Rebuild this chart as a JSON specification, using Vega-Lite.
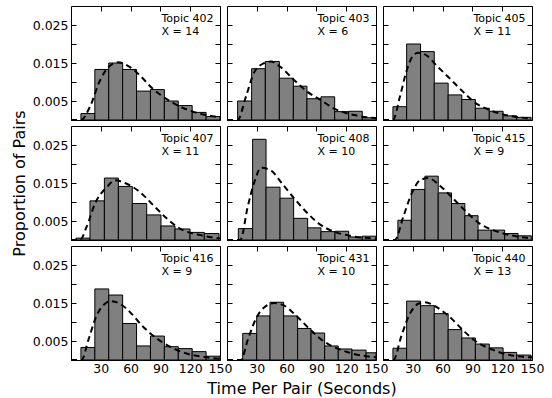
{
"$schema":"https://vega.github.io/schema/vega-lite/v6.json",
"padding":{"left":10,"top":5,"right":5,"bottom":2},
"columns":3,
"spacing":{"row":6,"column":7},
"bounds":"flush",
"datasets":{
"bars":[
{"topic":402,"x0":10,"x1":24,"d":0.0017},{"topic":402,"x0":24,"x1":38,"d":0.0133},{"topic":402,"x0":38,"x1":52,"d":0.0150},{"topic":402,"x0":52,"x1":66,"d":0.0133},{"topic":402,"x0":66,"x1":80,"d":0.0076},{"topic":402,"x0":80,"x1":94,"d":0.0080},{"topic":402,"x0":94,"x1":108,"d":0.0050},{"topic":402,"x0":108,"x1":122,"d":0.0038},{"topic":402,"x0":122,"x1":136,"d":0.0020},{"topic":402,"x0":136,"x1":150,"d":0.0009},
{"topic":403,"x0":10.7,"x1":24.8,"d":0.0050},{"topic":403,"x0":24.8,"x1":38.6,"d":0.0135},{"topic":403,"x0":38.6,"x1":52.7,"d":0.0154},{"topic":403,"x0":52.7,"x1":66.8,"d":0.0110},{"topic":403,"x0":66.8,"x1":80.5,"d":0.0089},{"topic":403,"x0":80.5,"x1":94.6,"d":0.0056},{"topic":403,"x0":94.6,"x1":108.4,"d":0.0061},{"topic":403,"x0":108.4,"x1":122.5,"d":0.0022},{"topic":403,"x0":122.5,"x1":136.2,"d":0.0023},{"topic":403,"x0":136.2,"x1":150,"d":0.0006},
{"topic":405,"x0":10,"x1":23.8,"d":0.0035},{"topic":405,"x0":23.8,"x1":37.8,"d":0.0200},{"topic":405,"x0":37.8,"x1":51.6,"d":0.0180},{"topic":405,"x0":51.6,"x1":65.6,"d":0.0097},{"topic":405,"x0":65.6,"x1":79.3,"d":0.0066},{"topic":405,"x0":79.3,"x1":93,"d":0.0054},{"topic":405,"x0":93,"x1":107,"d":0.0031},{"topic":405,"x0":107,"x1":120.9,"d":0.0023},{"topic":405,"x0":120.9,"x1":134.6,"d":0.0011},{"topic":405,"x0":134.6,"x1":149,"d":0.0007},
{"topic":407,"x0":5,"x1":19.1,"d":0.0005},{"topic":407,"x0":19.1,"x1":33.6,"d":0.0103},{"topic":407,"x0":33.6,"x1":47.7,"d":0.0163},{"topic":407,"x0":47.7,"x1":61.7,"d":0.0141},{"topic":407,"x0":61.7,"x1":76.2,"d":0.0096},{"topic":407,"x0":76.2,"x1":90.6,"d":0.0066},{"topic":407,"x0":90.6,"x1":104.7,"d":0.0037},{"topic":407,"x0":104.7,"x1":119.8,"d":0.0029},{"topic":407,"x0":119.8,"x1":134.2,"d":0.0020},{"topic":407,"x0":134.2,"x1":149,"d":0.0017},
{"topic":408,"x0":11.4,"x1":25.8,"d":0.0030},{"topic":408,"x0":25.8,"x1":39.3,"d":0.0265},{"topic":408,"x0":39.3,"x1":53.4,"d":0.0139},{"topic":408,"x0":53.4,"x1":67.1,"d":0.0110},{"topic":408,"x0":67.1,"x1":81.2,"d":0.0057},{"topic":408,"x0":81.2,"x1":94.6,"d":0.0032},{"topic":408,"x0":94.6,"x1":108.7,"d":0.0022},{"topic":408,"x0":108.7,"x1":122.5,"d":0.0023},{"topic":408,"x0":122.5,"x1":136.2,"d":0.0008},{"topic":408,"x0":136.2,"x1":150,"d":0.0010},
{"topic":415,"x0":15,"x1":28.5,"d":0.0052},{"topic":415,"x0":28.5,"x1":42.2,"d":0.0133},{"topic":415,"x0":42.2,"x1":55.6,"d":0.0168},{"topic":415,"x0":55.6,"x1":69,"d":0.0124},{"topic":415,"x0":69,"x1":82.4,"d":0.0096},{"topic":415,"x0":82.4,"x1":95.7,"d":0.0064},{"topic":415,"x0":95.7,"x1":109,"d":0.0026},{"topic":415,"x0":109,"x1":122.5,"d":0.0026},{"topic":415,"x0":122.5,"x1":136,"d":0.0017},{"topic":415,"x0":136,"x1":149.3,"d":0.0011},
{"topic":416,"x0":10,"x1":24,"d":0.0033},{"topic":416,"x0":24,"x1":38,"d":0.0187},{"topic":416,"x0":38,"x1":52,"d":0.0171},{"topic":416,"x0":52,"x1":66,"d":0.0096},{"topic":416,"x0":66,"x1":80,"d":0.0037},{"topic":416,"x0":80,"x1":94,"d":0.0063},{"topic":416,"x0":94,"x1":108,"d":0.0035},{"topic":416,"x0":108,"x1":122,"d":0.0030},{"topic":416,"x0":122,"x1":136,"d":0.0022},{"topic":416,"x0":136,"x1":150,"d":0.0010},
{"topic":431,"x0":15.8,"x1":29.9,"d":0.0070},{"topic":431,"x0":29.9,"x1":43.3,"d":0.0116},{"topic":431,"x0":43.3,"x1":57,"d":0.0152},{"topic":431,"x0":57,"x1":71.1,"d":0.0116},{"topic":431,"x0":71.1,"x1":84.6,"d":0.0083},{"topic":431,"x0":84.6,"x1":98.3,"d":0.0071},{"topic":431,"x0":98.3,"x1":112,"d":0.0037},{"topic":431,"x0":112,"x1":125.8,"d":0.0029},{"topic":431,"x0":125.8,"x1":140,"d":0.0026},{"topic":431,"x0":140,"x1":150,"d":0.0019},
{"topic":440,"x0":10,"x1":23.8,"d":0.0031},{"topic":440,"x0":23.8,"x1":37.8,"d":0.0155},{"topic":440,"x0":37.8,"x1":51.6,"d":0.0143},{"topic":440,"x0":51.6,"x1":65.6,"d":0.0122},{"topic":440,"x0":65.6,"x1":79.3,"d":0.0080},{"topic":440,"x0":79.3,"x1":93,"d":0.0058},{"topic":440,"x0":93,"x1":107,"d":0.0042},{"topic":440,"x0":107,"x1":120.9,"d":0.0032},{"topic":440,"x0":120.9,"x1":134.6,"d":0.0020},{"topic":440,"x0":134.6,"x1":149,"d":0.0013}
],
"curve":[
{"topic":402,"t":0,"d":0},{"topic":402,"t":10,"d":0},{"topic":402,"t":19.1,"d":0.0035},{"topic":402,"t":29.2,"d":0.0104},{"topic":402,"t":39.3,"d":0.0143},{"topic":402,"t":47.7,"d":0.0152},{"topic":402,"t":59.4,"d":0.0139},{"topic":402,"t":69.5,"d":0.0117},{"topic":402,"t":81.2,"d":0.0085},{"topic":402,"t":93,"d":0.0061},{"topic":402,"t":110,"d":0.0035},{"topic":402,"t":126.5,"d":0.0019},{"topic":402,"t":150,"d":0.0007},
{"topic":403,"t":0,"d":0},{"topic":403,"t":10.7,"d":0},{"topic":403,"t":19,"d":0.0061},{"topic":403,"t":27.5,"d":0.0126},{"topic":403,"t":37.6,"d":0.0150},{"topic":403,"t":44,"d":0.0154},{"topic":403,"t":54,"d":0.0139},{"topic":403,"t":68,"d":0.0104},{"topic":403,"t":81,"d":0.0074},{"topic":403,"t":94.6,"d":0.0052},{"topic":403,"t":108,"d":0.0030},{"topic":403,"t":128,"d":0.0013},{"topic":403,"t":150,"d":0.0005},
{"topic":405,"t":0,"d":0},{"topic":405,"t":10,"d":0},{"topic":405,"t":17,"d":0.0061},{"topic":405,"t":23.8,"d":0.0130},{"topic":405,"t":30.5,"d":0.0170},{"topic":405,"t":35.5,"d":0.0177},{"topic":405,"t":43.9,"d":0.0170},{"topic":405,"t":54,"d":0.0143},{"topic":405,"t":67.3,"d":0.0109},{"topic":405,"t":80.7,"d":0.0074},{"topic":405,"t":94,"d":0.0043},{"topic":405,"t":107.5,"d":0.0026},{"topic":405,"t":127.5,"d":0.0011},{"topic":405,"t":150,"d":0.0004},
{"topic":407,"t":0,"d":0},{"topic":407,"t":9,"d":0},{"topic":407,"t":15.8,"d":0.0035},{"topic":407,"t":24.2,"d":0.0096},{"topic":407,"t":36,"d":0.0139},{"topic":407,"t":44.3,"d":0.0157},{"topic":407,"t":56,"d":0.0148},{"topic":407,"t":69.5,"d":0.0126},{"topic":407,"t":83,"d":0.0091},{"topic":407,"t":96.3,"d":0.0057},{"topic":407,"t":109.7,"d":0.0030},{"topic":407,"t":130,"d":0.0013},{"topic":407,"t":150,"d":0.0004},
{"topic":408,"t":0,"d":0},{"topic":408,"t":13.4,"d":0},{"topic":408,"t":20.8,"d":0.0087},{"topic":408,"t":27.5,"d":0.0152},{"topic":408,"t":34.2,"d":0.0190},{"topic":408,"t":44.3,"d":0.0183},{"topic":408,"t":54.4,"d":0.0152},{"topic":408,"t":67.8,"d":0.0109},{"topic":408,"t":81.2,"d":0.0070},{"topic":408,"t":94.6,"d":0.0039},{"topic":408,"t":108,"d":0.0022},{"topic":408,"t":128,"d":0.0009},{"topic":408,"t":150,"d":0.0004},
{"topic":415,"t":0,"d":0},{"topic":415,"t":12,"d":0},{"topic":415,"t":20.4,"d":0.0061},{"topic":415,"t":28.8,"d":0.0122},{"topic":415,"t":37.2,"d":0.0157},{"topic":415,"t":45.5,"d":0.0163},{"topic":415,"t":57.3,"d":0.0143},{"topic":415,"t":70.6,"d":0.0109},{"topic":415,"t":84,"d":0.0074},{"topic":415,"t":97.4,"d":0.0043},{"topic":415,"t":110.8,"d":0.0026},{"topic":415,"t":127.6,"d":0.0013},{"topic":415,"t":150,"d":0.0004},
{"topic":416,"t":0,"d":0},{"topic":416,"t":10.7,"d":0},{"topic":416,"t":17.4,"d":0.0052},{"topic":416,"t":25.8,"d":0.0117},{"topic":416,"t":34.2,"d":0.0148},{"topic":416,"t":39.3,"d":0.0155},{"topic":416,"t":49.3,"d":0.0148},{"topic":416,"t":59.4,"d":0.0126},{"topic":416,"t":72.8,"d":0.0087},{"topic":416,"t":86.2,"d":0.0057},{"topic":416,"t":99.7,"d":0.0035},{"topic":416,"t":116.4,"d":0.0017},{"topic":416,"t":136.6,"d":0.0007},{"topic":416,"t":150,"d":0.0003},
{"topic":431,"t":0,"d":0},{"topic":431,"t":14,"d":0},{"topic":431,"t":20.8,"d":0.0052},{"topic":431,"t":29.2,"d":0.0109},{"topic":431,"t":37.6,"d":0.0139},{"topic":431,"t":47.7,"d":0.0150},{"topic":431,"t":57.7,"d":0.0143},{"topic":431,"t":71,"d":0.0113},{"topic":431,"t":84.6,"d":0.0078},{"topic":431,"t":98,"d":0.0048},{"topic":431,"t":111.4,"d":0.0030},{"topic":431,"t":128,"d":0.0016},{"topic":431,"t":150,"d":0.0007},
{"topic":440,"t":0,"d":0},{"topic":440,"t":10.4,"d":0},{"topic":440,"t":18.7,"d":0.0065},{"topic":440,"t":27.1,"d":0.0122},{"topic":440,"t":35.5,"d":0.0148},{"topic":440,"t":42.2,"d":0.0152},{"topic":440,"t":54,"d":0.0139},{"topic":440,"t":67.3,"d":0.0113},{"topic":440,"t":80.7,"d":0.0078},{"topic":440,"t":94,"d":0.0048},{"topic":440,"t":107.5,"d":0.0030},{"topic":440,"t":127.5,"d":0.0013},{"topic":440,"t":150,"d":0.0007}
],
"labels":[
{"topic":402,"label":"Topic 402\nX = 14"},{"topic":403,"label":"Topic 403\nX = 6"},{"topic":405,"label":"Topic 405\nX = 11"},
{"topic":407,"label":"Topic 407\nX = 11"},{"topic":408,"label":"Topic 408\nX = 10"},{"topic":415,"label":"Topic 415\nX = 9"},
{"topic":416,"label":"Topic 416\nX = 9"},{"topic":431,"label":"Topic 431\nX = 10"},{"topic":440,"label":"Topic 440\nX = 13"}
]
},
"concat":[
{"width":149,"height":114,"resolve":{"axis":{"x":"independent","y":"independent"}},"layer":[
{"data":{"name":"bars"},"transform":[{"filter":"datum.topic==402"}],"mark":{"type":"rect","fill":"#808080","stroke":"black","strokeWidth":1},"encoding":{"x":{"field":"x0","type":"quantitative","scale":{"domain":[0,150],"nice":false,"zero":false},"axis":{"orient":"bottom","values":[30,60,90,120,150],"labels":false,"title":null}},"x2":{"field":"x1"},"y":{"field":"d","type":"quantitative","scale":{"domain":[0,0.03],"nice":false},"axis":{"orient":"left","values":[0.005,0.01,0.015,0.02,0.025],"labels":true,"title":null}},"y2":{"datum":0}}},
{"data":{"name":"curve"},"transform":[{"filter":"datum.topic==402"}],"mark":{"type":"line","color":"black","strokeWidth":2,"strokeDash":[6,4],"interpolate":"monotone"},"encoding":{"x":{"field":"t","type":"quantitative","axis":{"orient":"top","values":[30,60,90,120,150],"labels":false,"title":null}},"y":{"field":"d","type":"quantitative","axis":{"orient":"right","values":[0.005,0.01,0.015,0.02,0.025],"labels":false,"title":null}}}},
{"data":{"name":"labels"},"transform":[{"filter":"datum.topic==402"}],"mark":{"type":"text","align":"left","baseline":"top","lineBreak":"\n","font":"DejaVu Sans","fontSize":11,"lineHeight":13},"encoding":{"x":{"datum":91,"type":"quantitative","axis":null},"y":{"datum":0.0281,"type":"quantitative","axis":null},"text":{"field":"label"}}}
]},
{"width":149,"height":114,"resolve":{"axis":{"x":"independent","y":"independent"}},"layer":[
{"data":{"name":"bars"},"transform":[{"filter":"datum.topic==403"}],"mark":{"type":"rect","fill":"#808080","stroke":"black","strokeWidth":1},"encoding":{"x":{"field":"x0","type":"quantitative","scale":{"domain":[0,150],"nice":false,"zero":false},"axis":{"orient":"bottom","values":[30,60,90,120,150],"labels":false,"title":null}},"x2":{"field":"x1"},"y":{"field":"d","type":"quantitative","scale":{"domain":[0,0.03],"nice":false},"axis":{"orient":"left","values":[0.005,0.01,0.015,0.02,0.025],"labels":false,"title":null}},"y2":{"datum":0}}},
{"data":{"name":"curve"},"transform":[{"filter":"datum.topic==403"}],"mark":{"type":"line","color":"black","strokeWidth":2,"strokeDash":[6,4],"interpolate":"monotone"},"encoding":{"x":{"field":"t","type":"quantitative","axis":{"orient":"top","values":[30,60,90,120,150],"labels":false,"title":null}},"y":{"field":"d","type":"quantitative","axis":{"orient":"right","values":[0.005,0.01,0.015,0.02,0.025],"labels":false,"title":null}}}},
{"data":{"name":"labels"},"transform":[{"filter":"datum.topic==403"}],"mark":{"type":"text","align":"left","baseline":"top","lineBreak":"\n","font":"DejaVu Sans","fontSize":11,"lineHeight":13},"encoding":{"x":{"datum":91,"type":"quantitative","axis":null},"y":{"datum":0.0281,"type":"quantitative","axis":null},"text":{"field":"label"}}}
]},
{"width":149,"height":114,"resolve":{"axis":{"x":"independent","y":"independent"}},"layer":[
{"data":{"name":"bars"},"transform":[{"filter":"datum.topic==405"}],"mark":{"type":"rect","fill":"#808080","stroke":"black","strokeWidth":1},"encoding":{"x":{"field":"x0","type":"quantitative","scale":{"domain":[0,150],"nice":false,"zero":false},"axis":{"orient":"bottom","values":[30,60,90,120,150],"labels":false,"title":null}},"x2":{"field":"x1"},"y":{"field":"d","type":"quantitative","scale":{"domain":[0,0.03],"nice":false},"axis":{"orient":"left","values":[0.005,0.01,0.015,0.02,0.025],"labels":false,"title":null}},"y2":{"datum":0}}},
{"data":{"name":"curve"},"transform":[{"filter":"datum.topic==405"}],"mark":{"type":"line","color":"black","strokeWidth":2,"strokeDash":[6,4],"interpolate":"monotone"},"encoding":{"x":{"field":"t","type":"quantitative","axis":{"orient":"top","values":[30,60,90,120,150],"labels":false,"title":null}},"y":{"field":"d","type":"quantitative","axis":{"orient":"right","values":[0.005,0.01,0.015,0.02,0.025],"labels":false,"title":null}}}},
{"data":{"name":"labels"},"transform":[{"filter":"datum.topic==405"}],"mark":{"type":"text","align":"left","baseline":"top","lineBreak":"\n","font":"DejaVu Sans","fontSize":11,"lineHeight":13},"encoding":{"x":{"datum":91,"type":"quantitative","axis":null},"y":{"datum":0.0281,"type":"quantitative","axis":null},"text":{"field":"label"}}}
]},
{"width":149,"height":114,"resolve":{"axis":{"x":"independent","y":"independent"}},"layer":[
{"data":{"name":"bars"},"transform":[{"filter":"datum.topic==407"}],"mark":{"type":"rect","fill":"#808080","stroke":"black","strokeWidth":1},"encoding":{"x":{"field":"x0","type":"quantitative","scale":{"domain":[0,150],"nice":false,"zero":false},"axis":{"orient":"bottom","values":[30,60,90,120,150],"labels":false,"title":null}},"x2":{"field":"x1"},"y":{"field":"d","type":"quantitative","scale":{"domain":[0,0.03],"nice":false},"axis":{"orient":"left","values":[0.005,0.01,0.015,0.02,0.025],"labels":true,"title":"Proportion of Pairs"}},"y2":{"datum":0}}},
{"data":{"name":"curve"},"transform":[{"filter":"datum.topic==407"}],"mark":{"type":"line","color":"black","strokeWidth":2,"strokeDash":[6,4],"interpolate":"monotone"},"encoding":{"x":{"field":"t","type":"quantitative","axis":{"orient":"top","values":[30,60,90,120,150],"labels":false,"title":null}},"y":{"field":"d","type":"quantitative","axis":{"orient":"right","values":[0.005,0.01,0.015,0.02,0.025],"labels":false,"title":null}}}},
{"data":{"name":"labels"},"transform":[{"filter":"datum.topic==407"}],"mark":{"type":"text","align":"left","baseline":"top","lineBreak":"\n","font":"DejaVu Sans","fontSize":11,"lineHeight":13},"encoding":{"x":{"datum":91,"type":"quantitative","axis":null},"y":{"datum":0.0281,"type":"quantitative","axis":null},"text":{"field":"label"}}}
]},
{"width":149,"height":114,"resolve":{"axis":{"x":"independent","y":"independent"}},"layer":[
{"data":{"name":"bars"},"transform":[{"filter":"datum.topic==408"}],"mark":{"type":"rect","fill":"#808080","stroke":"black","strokeWidth":1},"encoding":{"x":{"field":"x0","type":"quantitative","scale":{"domain":[0,150],"nice":false,"zero":false},"axis":{"orient":"bottom","values":[30,60,90,120,150],"labels":false,"title":null}},"x2":{"field":"x1"},"y":{"field":"d","type":"quantitative","scale":{"domain":[0,0.03],"nice":false},"axis":{"orient":"left","values":[0.005,0.01,0.015,0.02,0.025],"labels":false,"title":null}},"y2":{"datum":0}}},
{"data":{"name":"curve"},"transform":[{"filter":"datum.topic==408"}],"mark":{"type":"line","color":"black","strokeWidth":2,"strokeDash":[6,4],"interpolate":"monotone"},"encoding":{"x":{"field":"t","type":"quantitative","axis":{"orient":"top","values":[30,60,90,120,150],"labels":false,"title":null}},"y":{"field":"d","type":"quantitative","axis":{"orient":"right","values":[0.005,0.01,0.015,0.02,0.025],"labels":false,"title":null}}}},
{"data":{"name":"labels"},"transform":[{"filter":"datum.topic==408"}],"mark":{"type":"text","align":"left","baseline":"top","lineBreak":"\n","font":"DejaVu Sans","fontSize":11,"lineHeight":13},"encoding":{"x":{"datum":91,"type":"quantitative","axis":null},"y":{"datum":0.0281,"type":"quantitative","axis":null},"text":{"field":"label"}}}
]},
{"width":149,"height":114,"resolve":{"axis":{"x":"independent","y":"independent"}},"layer":[
{"data":{"name":"bars"},"transform":[{"filter":"datum.topic==415"}],"mark":{"type":"rect","fill":"#808080","stroke":"black","strokeWidth":1},"encoding":{"x":{"field":"x0","type":"quantitative","scale":{"domain":[0,150],"nice":false,"zero":false},"axis":{"orient":"bottom","values":[30,60,90,120,150],"labels":false,"title":null}},"x2":{"field":"x1"},"y":{"field":"d","type":"quantitative","scale":{"domain":[0,0.03],"nice":false},"axis":{"orient":"left","values":[0.005,0.01,0.015,0.02,0.025],"labels":false,"title":null}},"y2":{"datum":0}}},
{"data":{"name":"curve"},"transform":[{"filter":"datum.topic==415"}],"mark":{"type":"line","color":"black","strokeWidth":2,"strokeDash":[6,4],"interpolate":"monotone"},"encoding":{"x":{"field":"t","type":"quantitative","axis":{"orient":"top","values":[30,60,90,120,150],"labels":false,"title":null}},"y":{"field":"d","type":"quantitative","axis":{"orient":"right","values":[0.005,0.01,0.015,0.02,0.025],"labels":false,"title":null}}}},
{"data":{"name":"labels"},"transform":[{"filter":"datum.topic==415"}],"mark":{"type":"text","align":"left","baseline":"top","lineBreak":"\n","font":"DejaVu Sans","fontSize":11,"lineHeight":13},"encoding":{"x":{"datum":91,"type":"quantitative","axis":null},"y":{"datum":0.0281,"type":"quantitative","axis":null},"text":{"field":"label"}}}
]},
{"width":149,"height":114,"resolve":{"axis":{"x":"independent","y":"independent"}},"layer":[
{"data":{"name":"bars"},"transform":[{"filter":"datum.topic==416"}],"mark":{"type":"rect","fill":"#808080","stroke":"black","strokeWidth":1},"encoding":{"x":{"field":"x0","type":"quantitative","scale":{"domain":[0,150],"nice":false,"zero":false},"axis":{"orient":"bottom","values":[30,60,90,120,150],"labels":true,"title":null}},"x2":{"field":"x1"},"y":{"field":"d","type":"quantitative","scale":{"domain":[0,0.03],"nice":false},"axis":{"orient":"left","values":[0.005,0.01,0.015,0.02,0.025],"labels":true,"title":null}},"y2":{"datum":0}}},
{"data":{"name":"curve"},"transform":[{"filter":"datum.topic==416"}],"mark":{"type":"line","color":"black","strokeWidth":2,"strokeDash":[6,4],"interpolate":"monotone"},"encoding":{"x":{"field":"t","type":"quantitative","axis":{"orient":"top","values":[30,60,90,120,150],"labels":false,"title":null}},"y":{"field":"d","type":"quantitative","axis":{"orient":"right","values":[0.005,0.01,0.015,0.02,0.025],"labels":false,"title":null}}}},
{"data":{"name":"labels"},"transform":[{"filter":"datum.topic==416"}],"mark":{"type":"text","align":"left","baseline":"top","lineBreak":"\n","font":"DejaVu Sans","fontSize":11,"lineHeight":13},"encoding":{"x":{"datum":91,"type":"quantitative","axis":null},"y":{"datum":0.0281,"type":"quantitative","axis":null},"text":{"field":"label"}}}
]},
{"width":149,"height":114,"resolve":{"axis":{"x":"independent","y":"independent"}},"layer":[
{"data":{"name":"bars"},"transform":[{"filter":"datum.topic==431"}],"mark":{"type":"rect","fill":"#808080","stroke":"black","strokeWidth":1},"encoding":{"x":{"field":"x0","type":"quantitative","scale":{"domain":[0,150],"nice":false,"zero":false},"axis":{"orient":"bottom","values":[30,60,90,120,150],"labels":true,"title":"Time Per Pair (Seconds)"}},"x2":{"field":"x1"},"y":{"field":"d","type":"quantitative","scale":{"domain":[0,0.03],"nice":false},"axis":{"orient":"left","values":[0.005,0.01,0.015,0.02,0.025],"labels":false,"title":null}},"y2":{"datum":0}}},
{"data":{"name":"curve"},"transform":[{"filter":"datum.topic==431"}],"mark":{"type":"line","color":"black","strokeWidth":2,"strokeDash":[6,4],"interpolate":"monotone"},"encoding":{"x":{"field":"t","type":"quantitative","axis":{"orient":"top","values":[30,60,90,120,150],"labels":false,"title":null}},"y":{"field":"d","type":"quantitative","axis":{"orient":"right","values":[0.005,0.01,0.015,0.02,0.025],"labels":false,"title":null}}}},
{"data":{"name":"labels"},"transform":[{"filter":"datum.topic==431"}],"mark":{"type":"text","align":"left","baseline":"top","lineBreak":"\n","font":"DejaVu Sans","fontSize":11,"lineHeight":13},"encoding":{"x":{"datum":91,"type":"quantitative","axis":null},"y":{"datum":0.0281,"type":"quantitative","axis":null},"text":{"field":"label"}}}
]},
{"width":149,"height":114,"resolve":{"axis":{"x":"independent","y":"independent"}},"layer":[
{"data":{"name":"bars"},"transform":[{"filter":"datum.topic==440"}],"mark":{"type":"rect","fill":"#808080","stroke":"black","strokeWidth":1},"encoding":{"x":{"field":"x0","type":"quantitative","scale":{"domain":[0,150],"nice":false,"zero":false},"axis":{"orient":"bottom","values":[30,60,90,120,150],"labels":true,"title":null}},"x2":{"field":"x1"},"y":{"field":"d","type":"quantitative","scale":{"domain":[0,0.03],"nice":false},"axis":{"orient":"left","values":[0.005,0.01,0.015,0.02,0.025],"labels":false,"title":null}},"y2":{"datum":0}}},
{"data":{"name":"curve"},"transform":[{"filter":"datum.topic==440"}],"mark":{"type":"line","color":"black","strokeWidth":2,"strokeDash":[6,4],"interpolate":"monotone"},"encoding":{"x":{"field":"t","type":"quantitative","axis":{"orient":"top","values":[30,60,90,120,150],"labels":false,"title":null}},"y":{"field":"d","type":"quantitative","axis":{"orient":"right","values":[0.005,0.01,0.015,0.02,0.025],"labels":false,"title":null}}}},
{"data":{"name":"labels"},"transform":[{"filter":"datum.topic==440"}],"mark":{"type":"text","align":"left","baseline":"top","lineBreak":"\n","font":"DejaVu Sans","fontSize":11,"lineHeight":13},"encoding":{"x":{"datum":91,"type":"quantitative","axis":null},"y":{"datum":0.0281,"type":"quantitative","axis":null},"text":{"field":"label"}}}
]}
],
"config":{
"view":{"stroke":"black","strokeWidth":1},
"axis":{"grid":false,"domain":false,"tickColor":"black","tickSize":-5,"tickWidth":1,"labelFont":"DejaVu Sans","labelFontSize":12.5,"labelColor":"black","titleFont":"DejaVu Sans","titleFontSize":16,"titleFontWeight":"normal","titleColor":"black"},
"axisY":{"labelPadding":8,"titlePadding":5,"labelExpr":"datum.value == 0.01 || datum.value == 0.02 ? '' : format(datum.value, '.3f')"},
"axisX":{"labelPadding":7,"titlePadding":6,"labelFlush":false,"labelOverlap":false}
}
}
